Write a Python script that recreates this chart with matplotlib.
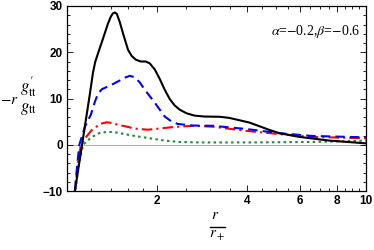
import matplotlib
matplotlib.use("Agg")
import matplotlib.pyplot as plt
from matplotlib.lines import Line2D
from matplotlib.ticker import FixedLocator, NullFormatter, MultipleLocator

plt.rcParams['mathtext.fontset'] = 'stix'
plt.rcParams['font.family'] = ['Liberation Sans', 'DejaVu Sans']

# curves (x = r/r+, y = -r g'tt/gtt)
x_black = [1.04, 1.063, 1.105, 1.148, 1.193, 1.222, 1.243, 1.269, 1.305, 1.373, 1.402,
           1.424, 1.445, 1.468, 1.502, 1.549, 1.601, 1.646, 1.698, 1.765, 1.833, 1.891,
           1.965, 2.04, 2.122, 2.205, 2.291, 2.38, 2.51, 2.67, 2.88, 3.24, 3.49, 3.77,
           4.07, 4.40, 4.75, 5.13, 5.98, 7.53, 10.0]
y_black = [-16, -10, -3, 4, 11, 15.6, 17.9, 19.7, 22.0, 26.3, 27.7,
           28.4, 28.6, 28.3, 26.5, 23.5, 20.5, 19.2, 18.4, 18.0, 18.0, 17.6,
           16.3, 14.3, 11.9, 9.9, 8.5, 7.6, 6.8, 6.3, 6.1, 6.05, 5.8, 5.3,
           4.8, 4.0, 3.2, 2.5, 1.7, 0.9, 0.3]

x_blue = [1.04, 1.063, 1.08, 1.10, 1.15, 1.202, 1.240, 1.269, 1.308, 1.349, 1.423,
          1.502, 1.561, 1.621, 1.685, 1.750, 1.82, 1.965, 2.122, 2.239, 2.344, 2.63,
          3.07, 3.98, 5.13, 6.61, 10.0]
y_blue = [-16, -10, -5, 0, 4.0, 6.5, 9.3, 11.0, 12.0, 12.4, 13.1,
          13.9, 14.5, 14.9, 14.6, 13.5, 11.9, 9.1, 6.1, 5.0, 4.5, 4.15,
          4.1, 3.4, 2.5, 1.9, 1.6]

x_red = [1.04, 1.063, 1.088, 1.113, 1.163, 1.211, 1.266, 1.308, 1.356, 1.413, 1.479,
         1.561, 1.685, 1.862, 2.04, 2.239, 2.63, 3.07, 3.98, 5.13, 6.61, 10.0]
y_red = [-16, -10, -4, 0, 1.8, 3.2, 4.1, 4.6, 4.85, 4.7, 4.3,
         4.0, 3.5, 3.25, 3.5, 3.8, 4.1, 3.9, 3.0, 2.3, 1.7, 1.4]

x_green = [1.045, 1.067, 1.096, 1.133, 1.181, 1.230, 1.281, 1.366, 1.445, 1.561, 1.685,
           1.89, 2.122, 2.38, 2.78, 4.07, 6.61, 10.0]
y_green = [-16, -10, -4, 0, 1.1, 1.9, 2.5, 2.8, 2.7, 2.3, 1.9,
           1.4, 0.9, 0.6, 0.5, 0.5, 0.6, 0.9]

x_ticks = [2, 4, 6, 8, 10]
y_ticks = [-10, 0, 10, 20, 30]

fig = plt.figure(figsize=(3.74, 2.5), dpi=100)
ax = fig.add_axes([0.179, 0.236, 0.800, 0.740])

ax.axhline(0, color='#b0b0b0', lw=0.8, zorder=1)
ax.plot(x_black, y_black, color='black', lw=1.5, zorder=5)
ax.plot(x_blue, y_blue, color='blue', lw=1.5, ls=(0, (4.5, 2.5)), zorder=4)
ax.plot(x_red, y_red, color='red', lw=1.5, ls=(0, (5, 2, 1, 2)), zorder=3)
ax.plot(x_green, y_green, color='#1e8a3c', lw=1.5, ls=(0, (1.2, 1.6)), zorder=2)

ax.set_xscale('log')
ax.set_xlim(1, 10)
ax.set_ylim(-10, 30)
ax.xaxis.set_major_locator(FixedLocator(x_ticks))
ax.set_xticklabels([str(t) for t in x_ticks])
minors = [1.2, 1.4, 1.6, 1.8, 2.5, 3, 3.5, 4.5, 5, 5.5, 6.5, 7, 7.5, 8.5, 9, 9.5]
ax.xaxis.set_minor_locator(FixedLocator(minors))
ax.xaxis.set_minor_formatter(NullFormatter())
ax.set_yticks(y_ticks)
ax.yaxis.set_minor_locator(MultipleLocator(2))

ax.tick_params(which='both', direction='in', top=True, right=True, width=0.6)
ax.tick_params(which='major', length=4, labelsize=8.5, pad=3)
ax.tick_params(which='minor', length=2)
for lab in ax.get_xticklabels() + ax.get_yticklabels():
    lab.set_fontweight('bold')
for s in ax.spines.values():
    s.set_linewidth(0.9)

ax.text(0.98, 0.86, r'$\alpha$=$-$0.2,$\beta$=$-$0.6', transform=ax.transAxes,
        ha='right', va='center', fontsize=10, family='Liberation Serif')

# x label: r over r_+
fig.text(0.575, 0.14, r'$r$', ha='center', va='center', fontsize=11)
fig.add_artist(Line2D([0.561, 0.602], [0.092, 0.092], color='black', lw=1.0,
                      transform=fig.transFigure))
fig.text(0.58, 0.055, r'$r_+$', ha='center', va='center', fontsize=11)

# y label: -r g'tt / gtt
fig.text(0.025, 0.6, r'$-r$', ha='center', va='center', fontsize=11)
fig.text(0.075, 0.655, r'$g^{\prime}_{\rm tt}$', ha='center', va='center', fontsize=12)
fig.text(0.075, 0.565, r'$g_{\rm tt}$', ha='center', va='center', fontsize=12)

fig.savefig('out.png', dpi=100)
